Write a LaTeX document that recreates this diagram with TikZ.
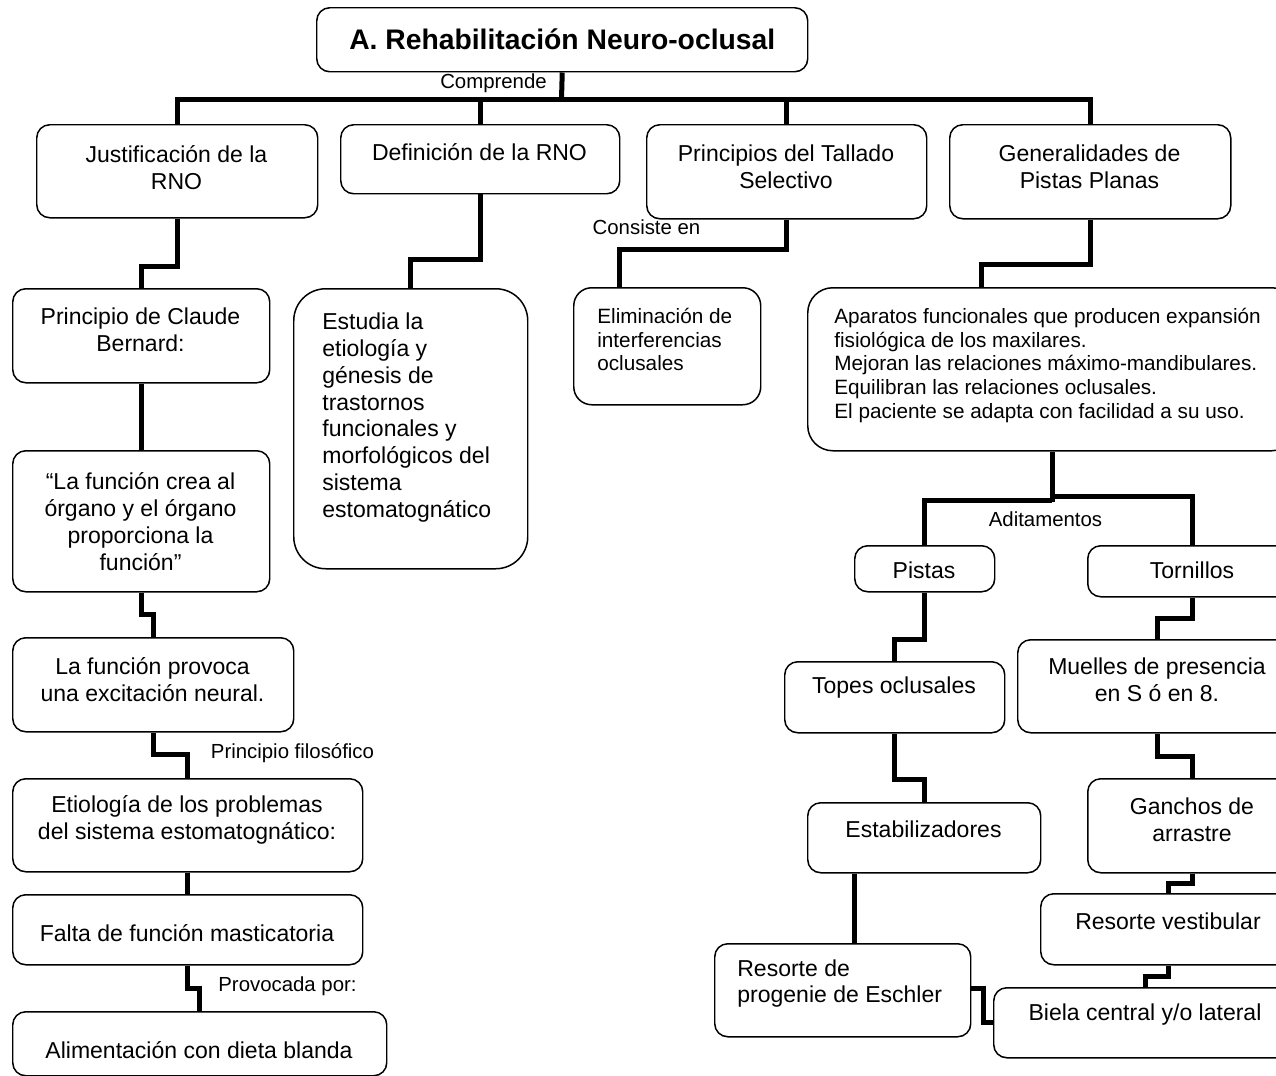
\documentclass[tikz,border=0pt]{standalone}
\usepackage{fontspec}
\setmainfont{Liberation Sans}
\newlength{\pxu}
\setlength{\pxu}{0.02cm}

\begin{document}
\begin{tikzpicture}[x=0.02cm,y=-0.02cm,
  caja/.style={draw,line width=0.85pt,rounded corners=13\pxu,anchor=north west,inner sep=0pt},
  con/.style={line width=5\pxu},
  txt/.style={inner sep=0pt,align=center,font=\fontsize{13.1}{15.3}\selectfont},
  peq/.style={inner sep=0pt,align=left,anchor=west,font=\fontsize{11.8}{13.5}\selectfont},
  lbl/.style={inner sep=0pt,font=\fontsize{11.6}{13.5}\selectfont}]
\useasboundingbox (0,0) rectangle (1276,1076);
\clip (0,0) rectangle (1276,1076);

\node[caja,minimum width=491\pxu,minimum height=64\pxu,font=\bfseries\fontsize{16.1}{19}\selectfont] (titulo) at (316,7) {A. Rehabilitación Neuro-oclusal};
\node[lbl] (comp) at (493.5,83) {Comprende};
\coordinate (bus) at (561.5,99);

\node[caja,minimum width=281\pxu,minimum height=93\pxu] (just) at (36,124) {};
\node[txt] (justT) at (176.5,167.5) {Justificación de la\\RNO};
\node[caja,minimum width=279\pxu,minimum height=69\pxu] (def) at (340,124) {};
\node[txt] (defT) at (479.5,152) {Definición de la RNO};
\node[caja,minimum width=280\pxu,minimum height=94\pxu] (princ) at (646,124) {};
\node[txt] (princT) at (786,167) {Principios del Tallado\\Selectivo};
\node[caja,minimum width=281\pxu,minimum height=94\pxu] (gen) at (949,124) {};
\node[txt] (genT) at (1089.5,167) {Generalidades de\\Pistas Planas};

\node[caja,minimum width=257\pxu,minimum height=94\pxu] (claude) at (12,288) {};
\node[txt] (claudeT) at (140.5,329.5) {Principio de Claude\\Bernard:};
\node[caja,minimum width=257\pxu,minimum height=141\pxu] (cita) at (12,450) {};
\node[txt] (citaT) at (140.5,521.5) {“La función crea al\\órgano y el órgano\\proporciona la\\función”};
\node[caja,minimum width=281\pxu,minimum height=94\pxu] (provoca) at (12,637) {};
\node[txt] (provocaT) at (152.5,679.5) {La función provoca\\una excitación neural.};
\node[lbl] (filo) at (292.5,753) {Principio filosófico};
\node[caja,minimum width=350\pxu,minimum height=93\pxu] (etio) at (12,778) {};
\node[txt] (etioT) at (187,819.5) {Etiología de los problemas\\del sistema estomatognático:};
\node[caja,minimum width=350\pxu,minimum height=70\pxu] (falta) at (12,894) {};
\node[txt] (faltaT) at (187,933) {Falta de función masticatoria};
\node[lbl] (provpor) at (287.5,986) {Provocada por:};
\node[caja,minimum width=374\pxu,minimum height=64\pxu] (alim) at (12,1011) {};
\node[txt] (alimT) at (199,1050) {Alimentación con dieta blanda};

\node[caja,rounded corners=32\pxu,minimum width=234\pxu,minimum height=280\pxu] (estudia) at (293,288) {};
\node[txt,align=left,anchor=west] (estudiaT) at (322,417.5) {Estudia la\\etiología y\\génesis de\\trastornos\\funcionales y\\morfológicos del\\sistema\\estomatognático};

\node[lbl] (consiste) at (646.5,227) {Consiste en};
\node[caja,rounded corners=18\pxu,minimum width=187\pxu,minimum height=117\pxu] (elim) at (573,287) {};
\node[peq] (elimT) at (597,339.5) {Eliminación de\\interferencias\\oclusales};

\node[caja,rounded corners=25\pxu,minimum width=489\pxu,minimum height=163\pxu] (apar) at (807,287) {};
\node[peq] (aparT) at (834,365.5) {Aparatos funcionales que producen expansión\\fisiológica de los maxilares.\\Mejoran las relaciones máximo-mandibulares.\\Equilibran las relaciones oclusales.\\El paciente se adapta con facilidad a su uso.};
\coordinate (adit) at (1051.5,496);
\node[lbl] (aditT) at (1045.5,519) {Aditamentos};

\node[caja,minimum width=140\pxu,minimum height=46\pxu] (pistas) at (854,545) {};
\node[txt] (pistasT) at (924,570) {Pistas};
\node[caja,minimum width=220\pxu,minimum height=71\pxu] (topes) at (784,661) {};
\node[txt] (topesT) at (894,688) {Topes oclusales};
\node[caja,minimum width=233\pxu,minimum height=70\pxu] (estab) at (807,802) {};
\node[txt] (estabT) at (923.5,829) {Estabilizadores};
\node[caja,minimum width=256\pxu,minimum height=93\pxu] (resprog) at (714,943) {};
\node[txt,align=left,anchor=west] (resprogT) at (737,983.5) {Resorte de\\progenie de Eschler};

\node[caja,minimum width=210\pxu,minimum height=51\pxu] (torn) at (1087,545) {};
\node[txt] (tornT) at (1192,570.5) {Tornillos};
\node[caja,minimum width=280\pxu,minimum height=93\pxu] (muelles) at (1017,639) {};
\node[txt] (muellesT) at (1157,680) {Muelles de presencia\\en S ó en 8.};
\node[caja,minimum width=210\pxu,minimum height=94\pxu] (ganchos) at (1087,778) {};
\node[txt] (ganchosT) at (1192,819.5) {Ganchos de\\arrastre};
\node[caja,minimum width=256\pxu,minimum height=71\pxu] (resvest) at (1040,893) {};
\node[txt] (resvestT) at (1168,921) {Resorte vestibular};
\node[caja,minimum width=304\pxu,minimum height=70\pxu] (biela) at (993,987) {};
\node[txt] (bielaT) at (1145,1015) {Biela central y/o lateral};

\draw[con] (titulo.south) -- (bus);
\draw[con] (just.north) |- (bus) -| (gen.north);
\draw[con] (def.north) -- (def.north |- bus);
\draw[con] (princ.north) -- (princ.north |- bus);

\draw[con] (just.south) -- ++(0,48) -| (claude.north);
\draw[con] (claude.south) -- (cita.north);
\draw[con] (cita.south) -- ++(0,22) -| (provoca.north);
\draw[con] (provoca.south) -- ++(0,22) -| (etio.north);
\draw[con] (etio.south) -- (falta.north);
\draw[con] (falta.south) -- ++(0,23) -| (alim.north);

\draw[con] (def.south) -- ++(0,65) -| (estudia.north);
\draw[con] (princ.south) -- ++(0,30) -| ([xshift=46\pxu]elim.north west);
\draw[con] (gen.south) -- ++(0,45) -| ([xshift=174\pxu]apar.north west);

\draw[con] (apar.south) -- ++(0,50);
\draw[con] (pistas.north) |- ([yshift=-4\pxu]adit);
\draw[con] ([xshift=-2\pxu]adit) -| (torn.north);
\draw[con] (pistas.south) -- ++(0,47) -| (topes.north);
\draw[con] (topes.south) -- ++(0,46) -| (estab.north);
\draw[con] ([xshift=47\pxu]estab.south west) -- ([xshift=140\pxu]resprog.north west);
\draw[con] ([yshift=-45\pxu]resprog.north east) -- ++(12,0) |- ([yshift=-35\pxu]biela.north west);

\draw[con] (torn.south) -- ++(0,21) -| (muelles.north);
\draw[con] (muelles.south) -- ++(0,23) -| (ganchos.north);
\draw[con] (ganchos.south) -- ++(0,10) -| (resvest.north);
\draw[con] (resvest.south) -- ++(0,11) -| (biela.north);
\end{tikzpicture}
\end{document}
